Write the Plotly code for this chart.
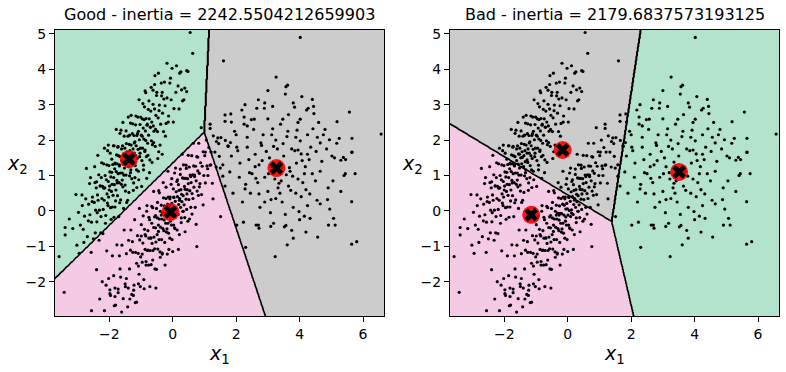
import numpy as np
import plotly.graph_objects as go

# ---------------- data ----------------
cluster_a = [
    (-3.58,-1.29),(-3.39,-0.47),(-3.39,-0.68),(-3.26,-0.23),(-3.15,-0.50),(-3.02,-0.97),
    (-2.97,-0.04),(-2.91,-0.40),(-2.86,0.45),(-2.82,-0.52),(-2.78,-0.15),(-2.74,0.34),(-2.69,-0.73),
    (-2.65,0.19),(-2.61,-0.11),(-2.59,0.94),(-2.56,-0.32),(-2.53,0.39),(-2.50,-0.79),(-2.47,0.24),
    (-2.45,0.80),(-2.43,0.02),(-2.41,0.65),(-2.39,-0.31),(-2.37,0.45),(-2.35,0.30),(-2.33,1.02),
    (-2.31,0.02),(-2.29,0.70),(-2.27,-0.62),(-2.25,0.94),(-2.23,0.35),(-2.21,0.69),(-2.19,0.04),
    (-2.18,1.33),(-2.16,0.30),(-2.14,0.65),(-2.13,1.00),(-2.11,-0.13),(-2.09,0.88),(-2.07,0.48),
    (-2.05,1.70),(-2.04,0.15),(-2.03,0.83),(-2.02,0.39),(-2.01,1.28),(-1.99,0.70),(-1.98,1.10),
    (-1.96,0.09),(-1.95,0.96),(-1.93,0.55),(-1.92,1.46),(-1.91,0.75),(-1.89,1.31),(-1.88,0.44),
    (-1.86,0.94),(-1.85,1.84),(-1.84,0.74),(-1.83,1.19),(-1.82,0.11),(-1.81,1.33),(-1.79,0.59),
    (-1.78,1.11),(-1.77,1.58),(-1.76,0.86),(-1.75,1.33),(-1.74,0.43),(-1.73,1.80),(-1.72,1.05),
    (-1.71,1.56),(-1.69,0.80),(-1.68,1.30),(-1.67,0.23),(-1.66,1.53),(-1.65,1.07),(-1.63,2.28),
    (-1.62,0.75),(-1.61,1.42),(-1.59,1.07),(-1.58,1.84),(-1.57,0.68),(-1.56,1.32),(-1.55,1.61),
    (-1.54,1.01),(-1.53,2.11),(-1.52,1.21),(-1.51,1.77),(-1.49,0.56),(-1.48,1.50),(-1.47,1.01),
    (-1.46,1.90),(-1.45,1.33),(-1.44,1.67),(-1.42,0.30),(-1.41,2.11),(-1.39,1.25),(-1.38,1.56),
    (-1.37,1.88),(-1.36,0.99),(-1.35,1.70),(-1.34,1.39),(-1.33,2.48),(-1.32,1.16),(-1.31,1.86),
    (-1.29,0.91),(-1.28,1.63),(-1.27,2.18),(-1.26,1.37),(-1.25,1.75),(-1.23,0.79),(-1.22,2.13),
    (-1.21,1.63),(-1.19,1.95),(-1.18,1.28),(-1.17,2.43),(-1.16,1.56),(-1.15,1.84),(-1.14,1.16),
    (-1.13,2.13),(-1.12,1.48),(-1.10,2.65),(-1.09,1.74),(-1.08,2.25),(-1.07,0.88),(-1.05,2.01),
    (-1.04,1.53),(-1.03,2.44),(-1.02,1.77),(-0.99,2.14),(-0.97,1.42),(-0.96,2.60),(-0.95,1.77),
    (-0.93,2.34),(-0.92,1.29),(-0.91,2.03),(-0.89,2.94),(-0.88,1.68),(-0.86,2.26),(-0.85,1.99),
    (-0.84,2.61),(-0.83,1.53),(-0.81,2.42),(-0.79,1.91),(-0.77,2.87),(-0.76,2.14),(-0.74,2.60),
    (-0.72,1.44),(-0.71,2.37),(-0.69,2.82),(-0.67,1.98),(-0.66,2.51),(-0.64,1.87),(-0.62,3.41),
    (-0.61,2.40),(-0.59,2.25),(-0.57,2.88),(-0.55,1.82),(-0.53,2.70),(-0.51,3.26),(-0.48,2.24),
    (-0.46,2.63),(-0.44,1.67),(-0.42,2.99),(-0.38,2.45),(-0.35,3.25),(-0.32,2.76),(-0.29,2.24),
    (-0.26,3.64),(-0.24,2.97),(-0.21,2.47),(-0.18,3.19),(-0.14,2.51),(-0.09,3.61),(-0.05,3.14),
    (-0.02,4.03),(0.04,2.89),(0.12,4.10),(0.17,3.53),(0.26,3.93),(0.38,3.47),(0.44,3.96),
    (0.55,5.04),(0.63,4.45),(-0.45,3.89),(0.28,3.42),(0.44,3.37),(0.31,3.11),(-0.87,3.39),
    (-0.56,3.82),(0.20,2.88),(-0.33,3.35),
    (-3.05,0.46),(-2.95,-1.20),(-2.85,0.15),(-2.80,-0.89),(-2.72,1.20),(-2.66,-0.28),(-2.62,0.77),
    (-2.57,-1.17),(-2.54,0.26),(-2.46,1.25),(-2.44,-0.62),(-2.40,0.82),(-2.38,-0.05),(-2.36,1.57),
    (-2.32,-0.83),(-2.28,0.71),(-2.26,-0.16),(-2.24,1.36),(-2.20,-0.64),(-2.17,0.64),(-2.15,1.77),
    (-2.12,-0.35),(-2.08,1.30),(-2.06,0.22),(-2.03,1.86),(-2.00,0.59),(-1.97,1.63),(-1.94,-0.24),
    (-1.92,1.09),(-1.90,0.11),(-1.87,1.84),(-1.85,-0.18),(-1.82,1.35),(-1.80,0.28),(-1.78,2.30),
    (-1.75,0.79),(-1.72,1.82),(-1.70,-0.16),(-1.68,1.27),(-1.66,2.19),(-1.64,0.31),(-1.61,1.75),
    (-1.59,0.87),(-1.57,2.50),(-1.55,0.07),(-1.52,1.60),(-1.50,0.73),(-1.47,2.26),(-1.45,0.24),
    (-1.43,1.51),(-1.40,2.65),(-1.38,0.52),(-1.36,2.14),(-1.33,1.08),(-1.31,2.70),(-1.28,1.44),
    (-1.26,2.46),(-1.24,0.58),(-1.21,1.92),(-1.19,0.94),(-1.16,2.68),(-1.13,0.66),(-1.11,2.18),
    (-1.08,1.12),(-1.06,3.14),(-1.03,1.63),(-1.01,2.65),(-0.98,0.69),(-0.96,2.11),(-0.94,3.03),
    (-0.92,1.16),(-0.90,2.58),(-0.87,1.72),(-0.85,3.34),(-0.82,0.92),(-0.80,2.45),(-0.78,1.57),
    (-0.75,3.11),(-0.73,1.08),(-0.70,2.36),(-0.68,3.49),(-0.65,1.37),(-0.62,3.01),(-0.60,1.93),
    (-0.57,3.57),(-0.54,2.30),(-0.50,3.35),(-0.47,1.48),(-0.43,2.83),(-0.40,1.86),(-0.36,3.61),
    (-0.33,1.60),(-0.28,3.16),(-0.23,2.11),(-0.18,4.17),(-0.13,2.68),(-0.07,3.75),(0.02,2.51),
    (0.10,3.35),(0.22,3.89),(0.35,3.14),(0.48,3.94),
]

cluster_b = [
    (-3.42,-2.30),(-2.56,-2.82),(-2.10,-2.10),(-1.98,-2.23),(-1.82,-2.42),(-1.84,-2.68),(-1.72,-2.31),
    (-1.98,-2.34),(-1.82,-2.18),(-1.61,-2.86),(-1.50,-2.06),(-1.66,-1.64),(-1.40,-2.18),(-1.35,-2.49),
    (-1.46,-1.91),(-1.33,-1.11),(-1.22,-2.10),(-1.24,-2.39),(-1.18,-2.59),(-1.08,-2.06),(-1.27,-0.87),
    (-1.14,-1.48),(-0.53,-2.18),(-1.09,-1.20),(-1.06,-1.79),(-1.04,-0.82),(-1.01,-1.30),(-0.99,-0.39),
    (-0.96,-1.45),(-0.94,-0.91),(-0.91,-1.94),(-0.89,-0.52),(-0.87,-1.09),(-0.85,-0.71),(-0.84,-1.43),
    (-0.82,-0.01),(-0.80,-1.12),(-0.78,-0.56),(-0.76,-1.53),(-0.75,-0.77),(-0.73,-0.25),(-0.71,-1.12),
    (-0.69,-0.77),(-0.68,-1.52),(-0.66,-0.35),(-0.65,-0.92),(-0.63,0.09),(-0.62,-1.12),(-0.60,-0.47),
    (-0.59,-0.74),(-0.57,-0.17),(-0.56,-1.64),(-0.54,-0.48),(-0.53,-0.88),(-0.51,0.07),(-0.49,-0.67),
    (-0.48,-0.20),(-0.47,-1.08),(-0.45,-0.40),(-0.44,0.57),(-0.43,-0.81),(-0.42,-0.23),(-0.40,-1.16),
    (-0.39,-0.01),(-0.38,-0.46),(-0.36,0.16),(-0.35,-0.81),(-0.34,-0.23),(-0.33,-1.22),(-0.32,-0.06),
    (-0.31,-0.50),(-0.29,0.37),(-0.28,-0.56),(-0.27,-0.26),(-0.26,0.14),(-0.25,-0.89),(-0.24,-0.07),
    (-0.22,-0.35),(-0.21,0.67),(-0.20,-0.60),(-0.19,-0.08),(-0.17,-1.22),(-0.16,0.19),(-0.15,-0.35),
    (-0.14,0.39),(-0.13,-0.63),(-0.12,-0.12),(-0.11,0.16),(-0.09,-0.77),(-0.08,0.39),(-0.07,-0.29),
    (-0.06,0.05),(-0.05,0.75),(-0.04,-0.40),(-0.03,0.21),(-0.02,-0.81),(-0.01,0.06),(0.01,-0.12),
    (0.02,0.62),(0.03,-0.40),(0.04,0.38),(0.05,0.01),(0.06,1.07),(0.07,-0.50),(0.08,0.27),(0.09,-0.16),
    (0.11,0.54),(0.12,0.03),(0.13,0.83),(0.14,-0.54),(0.15,0.40),(0.17,-0.10),(0.18,0.74),(0.19,0.18),
    (0.20,0.58),(0.21,-0.67),(0.22,0.35),(0.24,1.03),(0.25,0.10),(0.26,0.60),(0.27,-0.20),(0.28,0.47),
    (0.29,0.26),(0.31,0.93),(0.32,-0.01),(0.33,0.43),(0.34,1.30),(0.36,0.17),(0.37,0.69),(0.38,-0.19),
    (0.39,0.61),(0.41,0.92),(0.42,0.33),(0.43,1.20),(0.44,0.04),(0.46,0.60),(0.47,0.91),(0.48,-0.29),
    (0.49,0.77),(0.51,0.32),(0.52,1.24),(0.54,0.57),(0.55,1.01),(0.57,0.10),(0.58,0.80),(0.60,1.56),
    (0.61,0.49),(0.63,1.02),(0.64,0.35),(0.66,1.27),(0.67,0.67),(0.69,0.97),(0.71,0.10),(0.72,1.26),
    (0.74,0.85),(0.76,1.53),(0.77,0.56),(0.79,1.13),(0.81,0.44),(0.82,1.91),(0.84,1.06),(0.86,0.77),
    (0.88,1.36),(0.91,0.46),(0.93,1.26),(0.96,1.67),(0.98,1.00),(1.01,1.56),(1.03,0.79),(1.06,2.00),
    (1.08,1.27),(1.11,1.00),(1.14,1.79),(1.18,1.29),(1.21,1.66),(1.25,0.78),(1.28,2.12),(1.33,1.66),
    (1.37,1.24),(1.42,2.06),(1.47,1.54),(1.52,2.07),(1.58,1.30),(1.66,1.99),(1.74,1.84),(1.85,2.51),
    (2.02,1.80),(2.25,2.45),(1.51,-0.16),(0.76,-1.01),
    (-2.40,-1.66),(-2.30,-2.49),(-2.22,-2.00),(-2.15,-2.82),(-2.08,-1.13),(-2.02,-1.91),(-1.96,-2.39),
    (-1.90,-1.27),(-1.86,-1.83),(-1.80,-2.66),(-1.76,-0.96),(-1.72,-2.21),(-1.68,-1.27),(-1.64,-1.87),
    (-1.60,-0.97),(-1.56,-2.48),(-1.53,-0.54),(-1.49,-2.14),(-1.46,-1.21),(-1.42,-2.71),(-1.39,-0.83),
    (-1.36,-1.64),(-1.32,-0.54),(-1.29,-2.36),(-1.26,-1.17),(-1.23,-2.24),(-1.20,-0.25),(-1.17,-1.17),
    (-1.14,-2.58),(-1.11,-0.70),(-1.08,-1.56),(-1.05,0.07),(-1.02,-2.14),(-0.99,-0.71),(-0.96,-1.22),
    (-0.93,-0.14),(-0.90,-2.20),(-0.87,-0.67),(-0.84,-1.53),(-0.81,0.15),(-0.78,-1.11),(-0.75,-0.18),
    (-0.72,-2.14),(-0.69,-0.76),(-0.66,0.13),(-0.63,-1.39),(-0.60,0.55),(-0.57,-1.07),(-0.54,-0.13),
    (-0.51,-1.65),(-0.48,0.24),(-0.45,-0.58),(-0.42,0.51),(-0.39,-1.31),(-0.36,-0.12),(-0.33,-1.19),
    (-0.30,0.80),(-0.27,-0.12),(-0.24,-1.53),(-0.21,0.35),(-0.18,-0.51),(-0.15,1.12),(-0.12,-1.09),
    (-0.09,0.34),(-0.06,-0.17),(-0.03,0.91),(0.00,-1.15),(0.03,0.39),(0.06,-0.48),(0.09,1.21),
    (0.12,-0.06),(0.15,0.88),(0.18,-1.09),(0.21,0.30),(0.24,1.18),(0.27,-0.33),(0.30,1.60),
    (0.33,-0.01),(0.36,0.92),(0.39,-0.59),(0.42,1.29),(0.45,0.48),(0.49,1.57),(0.53,-0.23),
    (0.57,0.97),(0.61,-0.09),(0.65,1.91),(0.69,1.01),(0.74,-0.38),(0.79,1.52),(0.84,0.68),
    (0.90,2.35),(0.96,0.17),(1.03,1.66),(1.10,1.19),(1.18,2.33),(1.27,0.34),(1.38,1.96),
    (1.50,1.21),(1.65,2.53),(1.82,1.93),
]

cluster_c = [
    (3.42,0.85),(2.82,1.42),(4.05,1.61),(3.10,0.32),(4.40,1.05),(2.35,1.80),(3.63,2.25),(2.68,0.80),
    (3.35,1.38),(4.65,1.92),(2.10,0.95),(3.88,0.50),(3.00,2.60),(4.18,1.25),(3.20,1.08),(4.90,0.65),
    (2.55,2.30),(3.55,-0.10),(1.85,1.55),(3.75,1.75),(3.25,2.00),(4.25,0.15),(2.75,0.10),(5.10,1.50),
    (2.45,0.50),(3.50,1.55),(2.95,1.68),(3.95,2.50),(4.55,0.30),(2.25,2.65),(3.32,0.65),(3.70,1.12),
    (2.60,1.25),(4.80,2.30),(3.15,2.95),(4.10,0.80),(1.65,0.70),(3.60,2.10),(4.35,1.80),(2.90,0.95),
    (3.90,1.35),(2.00,2.15),(3.45,0.25),(5.40,1.00),(3.05,1.50),(4.00,-0.25),(2.40,1.45),(4.45,2.75),
    (2.70,-0.40),(3.80,3.05),(3.22,0.90),(4.25,2.15),(1.45,1.90),(3.65,0.70),(4.70,1.40),(2.85,2.15),
    (3.40,2.45),(4.15,1.05),(2.20,0.25),(5.25,2.05),(3.00,0.55),(3.85,1.70),(2.65,2.90),(4.50,0.85),
    (3.30,1.75),(1.80,1.10),(4.05,0.40),(3.55,3.30),(2.50,1.05),(4.95,0.05),(3.10,1.25),(3.75,-0.55),
    (4.30,1.45),(2.05,1.70),(3.48,1.90),(5.65,1.65),(2.80,1.85),(3.95,0.90),(3.18,-0.35),(4.60,2.50),
    (2.35,2.40),(3.68,1.22),(4.20,0.60),(2.90,0.25),(4.85,1.75),(1.20,1.30),(3.38,0.50),(4.02,1.98),
    (2.60,1.60),(4.40,3.15),(3.12,2.15),(3.80,0.10),(1.90,0.50),(4.25,1.60),(3.58,1.02),(2.72,1.30),
    (5.30,0.55),(3.00,3.40),(3.92,2.28),(2.30,0.75),
    (4.02,4.90),(1.60,4.24),(3.26,3.78),(3.57,3.51),(4.07,3.23),(2.70,3.14),(6.57,2.17),(5.57,2.79),
    (2.89,2.90),(2.28,3.00),(4.44,2.95),(3.84,2.93),(5.64,0.26),(5.80,-0.87),(5.64,-0.94),(4.57,-0.74),
    (3.23,-1.29),(3.80,-0.77),(3.61,-0.96),(4.20,-0.60),(5.12,-0.40),(4.91,-0.40),(5.07,-0.21),
    (2.30,-1.03),(2.02,-0.40),(2.23,-0.32),(2.63,-0.40),(2.72,-0.49),(3.09,-0.44),(3.57,-0.41),
    (4.33,-0.21),(4.65,0.20),(5.17,1.91),(5.65,2.05),(5.65,1.66),(5.38,1.51),(5.02,1.55),(5.30,1.43),
    (5.44,1.05),(1.18,2.45),(1.65,2.71),(1.83,2.74),(2.18,2.85),(2.57,2.59),(3.47,2.59),(4.02,2.59),
    (4.27,2.90),(4.56,2.08),(4.94,2.01),
    (3.72,0.58),(2.42,1.08),(4.52,1.68),(3.15,2.32),(3.98,-0.02),(1.95,2.25),(3.35,0.78),(5.05,0.85),
    (2.78,1.92),(4.22,2.85),(3.08,-0.05),(4.75,2.15),(2.28,0.62),(3.65,2.72),(5.45,1.45),(2.62,0.92),
    (3.45,1.22),(4.32,0.48),(1.75,1.82),(3.88,2.08),(2.90,3.05),(4.65,1.12),(3.25,0.35),(4.08,1.42),
    (2.12,1.35),(3.52,-0.45),(5.18,2.52),(2.48,2.58),(3.78,0.98),(3.02,1.05),(4.42,2.32),(1.58,0.98),
    (4.15,-0.15),(3.18,1.82),(4.88,0.32),(2.35,2.08),(3.62,3.55),(5.75,1.05),(2.72,0.48),(3.95,1.72),
]

titles = ["Good - inertia = 2242.5504212659903", "Bad - inertia = 2179.6837573193125"]
good_centroids_x = [-1.38, -0.07, 3.27]
good_centroids_y = [1.46, -0.03, 1.21]
bad_centroids_x = [-0.16, -1.15, 3.51]
bad_centroids_y = [1.72, -0.11, 1.10]
# region colour index per centroid: 0 = green, 1 = pink, 2 = grey
good_region_colors = [0, 1, 2]
bad_region_colors = [2, 1, 0]

x_tick_vals = [-2, 0, 2, 4, 6]
y_tick_vals = [-2, -1, 0, 1, 2, 3, 4, 5]
x_range = [-3.71, 6.66]
y_range = [-2.97, 5.11]

GREEN, PINK, GREY = "#b3e2cd", "#f4cae4", "#cccccc"

# ---------------- figure ----------------
pts = cluster_a + cluster_b + cluster_c
px = [p[0] for p in pts]
py = [p[1] for p in pts]

gx = np.linspace(-3.9, 6.9, 520)
gy = np.linspace(-3.15, 5.3, 400)
GX, GY = np.meshgrid(gx, gy)

fig = go.Figure()
panels = [
    ("x", "y", good_centroids_x, good_centroids_y, good_region_colors),
    ("x2", "y2", bad_centroids_x, bad_centroids_y, bad_region_colors),
]
cscale = [[0, GREEN], [1/3, GREEN], [1/3, PINK], [2/3, PINK], [2/3, GREY], [1, GREY]]
for xa, ya, cx, cy, rc in panels:
    cxa = np.array(cx)
    cya = np.array(cy)
    d = (GX[..., None] - cxa) ** 2 + (GY[..., None] - cya) ** 2
    lab = np.argmin(d, axis=2)
    zc = np.array(rc)[lab]
    fig.add_trace(go.Heatmap(x=gx, y=gy, z=zc, zmin=0, zmax=2, colorscale=cscale,
                             showscale=False, hoverinfo="skip", xaxis=xa, yaxis=ya))
    fig.add_trace(go.Contour(x=gx, y=gy, z=lab, showscale=False, hoverinfo="skip",
                             contours=dict(start=0.5, end=1.5, size=1, coloring="none"),
                             line=dict(color="black", width=1.6, smoothing=0),
                             xaxis=xa, yaxis=ya))
    fig.add_trace(go.Scatter(x=px, y=py, mode="markers", hoverinfo="skip",
                             marker=dict(color="black", size=3.2, line=dict(width=0)),
                             xaxis=xa, yaxis=ya, showlegend=False))
    fig.add_trace(go.Scatter(x=cx, y=cy, mode="markers", hoverinfo="skip",
                             marker=dict(symbol="circle", color="rgba(255,0,0,0.9)", size=18,
                                         line=dict(width=0)),
                             xaxis=xa, yaxis=ya, showlegend=False))
    fig.add_trace(go.Scatter(x=cx, y=cy, mode="markers", hoverinfo="skip",
                             marker=dict(symbol="x", color="black", size=12, line=dict(width=0)),
                             xaxis=xa, yaxis=ya, showlegend=False))

font = dict(family="DejaVu Sans", size=14, color="black")
axis_common = dict(showgrid=False, zeroline=False, showline=True, mirror=True,
                   linecolor="black", linewidth=1, ticks="outside", ticklen=5,
                   tickcolor="black", tickwidth=1, tickfont=font)

def tt(vals):
    return [("\u2212" + str(-v)) if v < 0 else str(v) for v in vals]

fig.update_layout(
    width=786, height=372, autosize=False,
    margin=dict(l=55, r=7, t=30, b=56),
    paper_bgcolor="white", plot_bgcolor="white",
    showlegend=False,
    xaxis=dict(domain=[0, 329/724], range=x_range, tickvals=x_tick_vals,
               ticktext=tt(x_tick_vals), anchor="y", **axis_common),
    yaxis=dict(domain=[0, 1], range=y_range, tickvals=y_tick_vals,
               ticktext=tt(y_tick_vals), anchor="x", **axis_common),
    xaxis2=dict(domain=[395/724, 1], range=x_range, tickvals=x_tick_vals,
                ticktext=tt(x_tick_vals), anchor="y2", **axis_common),
    yaxis2=dict(domain=[0, 1], range=y_range, tickvals=y_tick_vals,
                ticktext=tt(y_tick_vals), anchor="x2", **axis_common),
)

ann = []
for i, (xd, yd) in enumerate([("x domain", "y domain"), ("x2 domain", "y2 domain")]):
    ann.append(dict(xref=xd, yref=yd, x=0.5, y=1 + 15/286, text=titles[i], showarrow=False,
                    xanchor="center", yanchor="middle",
                    font=dict(family="DejaVu Sans", size=16, color="black")))
    ann.append(dict(xref=xd, yref=yd, x=0.5, y=-38/286, text="<i>x</i><sub>1</sub>",
                    showarrow=False, xanchor="center", yanchor="middle",
                    font=dict(family="DejaVu Sans", size=19, color="black")))
    ann.append(dict(xref=xd, yref=yd, x=-38/329, y=151/286, text="<i>x</i><sub>2</sub>",
                    showarrow=False, xanchor="center", yanchor="middle",
                    font=dict(family="DejaVu Sans", size=19, color="black")))
fig.update_layout(annotations=ann)

# remove the page's default 8px body margin so the figure fills the window exactly
fig.write_html("out.html", config={"displayModeBar": False},
               post_script="document.body.style.margin='0';")
